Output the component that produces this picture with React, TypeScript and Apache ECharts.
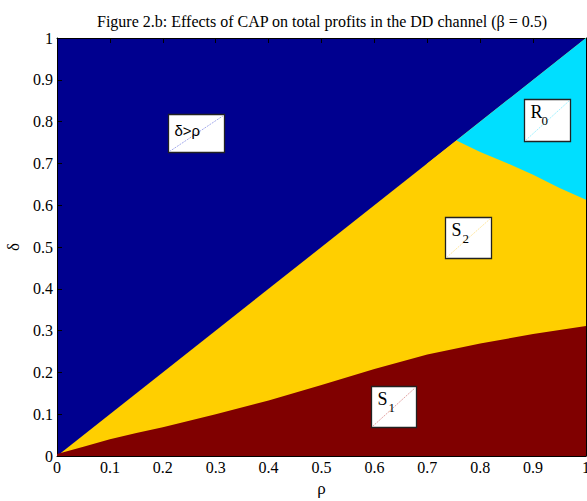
import React, { useEffect, useRef } from "react";
import * as echarts from "echarts";

// Boundary between S1 (below) and S2 (above)
const s1Rho = [0, 0.05, 0.1, 0.15, 0.2, 0.3, 0.4, 0.5, 0.6, 0.7, 0.8, 0.9, 1.0];
const s1Delta = [0.005, 0.022, 0.04, 0.055, 0.069, 0.1, 0.133, 0.17, 0.208, 0.243, 0.269, 0.292, 0.311];
// Boundary between R0 (above) and S2 (below), starting on the diagonal
const r0Rho = [0.7, 0.755, 0.8, 0.85, 0.9, 0.95, 1.0];
const r0Delta = [0.7, 0.755, 0.727, 0.701, 0.673, 0.641, 0.613];
// Diagonal delta = rho
const diagRho = [0, 1];
const diagDelta = [0, 1];
// R0 top edge (part of diagonal)
const r0TopRho = [0.755, 1];
const r0TopDelta = [0.755, 1];

// Region label boxes
const boxLabels = ["δ>ρ", "R", "S", "S"];
const boxSubs = ["", "0", "2", "1"];
const boxRho0 = [0.21, 0.883, 0.733, 0.593];
const boxRho1 = [0.315, 0.97, 0.82, 0.679];
const boxDelta0 = [0.727, 0.753, 0.473, 0.07];
const boxDelta1 = [0.818, 0.853, 0.572, 0.168];

const titleText = "Figure 2.b: Effects of CAP on total profits in the DD channel (β = 0.5)";

const C_BLUE = "#00008f";
const C_RED = "#800000";
const C_YELLOW = "#ffcf00";
const C_CYAN = "#00dfff";
const tints = ["#a6acec", "#a0f2ff", "#ffe8a0", "#e4a4a4"];

const SERIF = "Liberation Serif";
const SANS = "Liberation Sans";

function zip(a: number[], b: number[]) {
  return a.map((v, i) => [v, b[i]]);
}

function areaSeries(data: number[][], color: string) {
  return {
    type: "line",
    data,
    showSymbol: false,
    symbol: "none",
    lineStyle: { width: 0, color },
    areaStyle: { color, opacity: 1 },
    silent: true,
    xAxisIndex: 0,
    yAxisIndex: 0,
  };
}

export default function App() {
  const ref = useRef<HTMLDivElement>(null);
  useEffect(() => {
    document.body.style.margin = "0";
    const chart = echarts.init(ref.current!, null, { renderer: "svg" });
    const axisCommon = {
      type: "value",
      min: 0,
      max: 1,
      interval: 0.1,
      splitLine: { show: false },
      axisLine: { show: true, onZero: false, lineStyle: { color: "#000", width: 1 } },
      axisTick: { show: true, inside: true, length: 5, lineStyle: { color: "#000" } },
    };
    const boxData = boxLabels.map((_, i) => [boxRho0[i], boxDelta0[i], boxRho1[i], boxDelta1[i]]);
    chart.setOption({
      animation: false,
      backgroundColor: "#fff",
      grid: {
        left: 57,
        right: 1,
        top: 38,
        bottom: 45,
        show: true,
        backgroundColor: C_BLUE,
        borderWidth: 0,
        containLabel: false,
        outerBoundsMode: "none",
      },
      graphic: [
        {
          type: "text",
          x: 322,
          y: 21,
          style: {
            text: titleText,
            fontFamily: SERIF,
            fontSize: 16,
            fill: "#000",
            textAlign: "center",
            textVerticalAlign: "middle",
          },
        },
      ],
      xAxis: [
        {
          ...axisCommon,
          position: "bottom",
          name: "ρ",
          nameLocation: "middle",
          nameGap: 23,
          nameTextStyle: { fontFamily: SERIF, fontSize: 17, color: "#000" },
          axisLabel: {
            fontFamily: SERIF,
            fontSize: 16,
            color: "#000",
            margin: 3,
            formatter: (v: number) => String(+v.toFixed(1)),
          },
        },
        { ...axisCommon, position: "top", axisLabel: { show: false } },
      ],
      yAxis: [
        {
          ...axisCommon,
          position: "left",
          name: "δ",
          nameLocation: "middle",
          nameGap: 26,
          nameRotate: 90,
          nameTextStyle: { fontFamily: SERIF, fontSize: 17, color: "#000" },
          axisLabel: {
            fontFamily: SERIF,
            fontSize: 16,
            color: "#000",
            margin: 4,
            formatter: (v: number) => String(+v.toFixed(1)),
          },
        },
        { ...axisCommon, position: "right", axisLabel: { show: false } },
      ],
      series: [
        areaSeries(zip(diagRho, diagDelta), C_YELLOW),
        areaSeries(zip(r0TopRho, r0TopDelta), C_CYAN),
        areaSeries(zip(r0Rho, r0Delta), C_YELLOW),
        areaSeries(zip(s1Rho, s1Delta), C_RED),
        {
          type: "custom",
          xAxisIndex: 0,
          yAxisIndex: 0,
          data: boxData,
          encode: { x: [0, 2], y: [1, 3] },
          z: 10,
          silent: true,
          renderItem: (params: any, api: any) => {
            const i = params.dataIndex;
            const p0 = api.coord([api.value(0), api.value(1)]);
            const p1 = api.coord([api.value(2), api.value(3)]);
            const x = Math.round(p0[0]) + 0.5;
            const y = Math.round(p1[1]) + 0.5;
            const w = Math.round(p1[0] - p0[0]);
            const h = Math.round(p0[1] - p1[1]);
            const children: any[] = [
              {
                type: "rect",
                shape: { x, y, width: w, height: h },
                style: { fill: "#fff", stroke: "#222", lineWidth: 1.3 },
              },
              {
                type: "line",
                shape: { x1: x + 1, y1: y + h - 1, x2: x + w - 1, y2: y + 1 },
                style: { stroke: tints[i], lineWidth: 1, lineDash: [2, 1] },
              },
            ];
            if (boxSubs[i] === "") {
              children.push({
                type: "text",
                x: x + 6,
                y: y + 8,
                style: { text: boxLabels[i], fontFamily: SANS, fontSize: 15, fill: "#000", textVerticalAlign: "top" },
              });
            } else {
              children.push({
                type: "text",
                x: x + 6,
                y: y + 3,
                style: { text: boxLabels[i], fontFamily: SERIF, fontSize: 18, fill: "#000", textVerticalAlign: "top" },
              });
              children.push({
                type: "text",
                x: x + 17,
                y: y + 14,
                style: { text: boxSubs[i], fontFamily: SERIF, fontSize: 13, fill: "#000", textVerticalAlign: "top" },
              });
            }
            return { type: "group", children };
          },
        },
      ],
    });
    return () => chart.dispose();
  }, []);
  return <div ref={ref} style={{ width: 587, height: 501 }} />;
}
